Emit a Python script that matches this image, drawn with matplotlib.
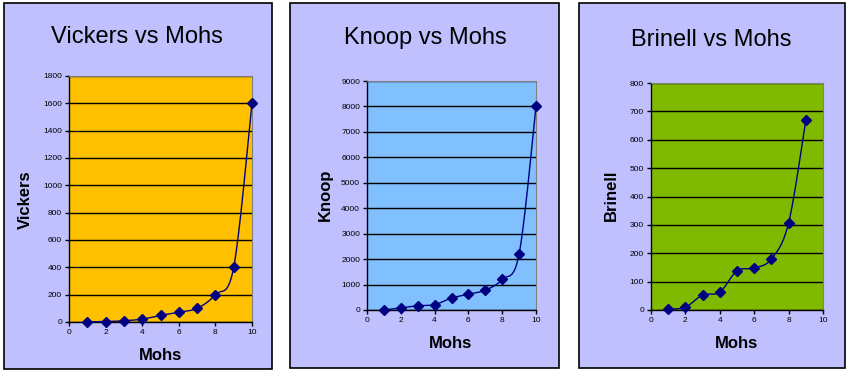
import numpy as np
import matplotlib

matplotlib.use("Agg")
import matplotlib.pyplot as plt
from matplotlib.patches import Rectangle

plt.rcParams["font.family"] = ["Liberation Sans", "DejaVu Sans"]

W, H = 849, 380

# data
mohs = [1, 2, 3, 4, 5, 6, 7, 8, 9, 10]
vickers = [1, 3, 9, 21, 48, 72, 100, 200, 400, 1600]
knoop = [1, 80, 170, 210, 470, 620, 780, 1200, 2200, 8000]
mohs_brinell = [1, 2, 3, 4, 5, 6, 7, 8, 9]
brinell = [3, 10, 53, 63, 138, 148, 180, 307, 668]

# name, x, y, ymax, ystep, plot colour, panel box, plot box, title xy, ylabel xy, xlabel xy
panels = [
    ("Vickers", mohs, vickers, 1800, 200, "#FFC000",
     (4, 3, 272, 369), (69, 76, 252, 322), (137, 37), (25, 200), (160, 356)),
    ("Knoop", mohs, knoop, 9000, 1000, "#80C0FF",
     (290, 3, 559, 368), (367, 81, 536, 310), (425, 38), (325, 195), (451, 344)),
    ("Brinell", mohs_brinell, brinell, 800, 100, "#7FBA00",
     (579, 3, 845, 368), (651, 83, 823, 310), (711, 40), (611, 195), (736, 344)),
]


def fx(px):
    return px / W


def fy(py):
    return 1 - py / H


def smooth(x, y, sx, sy, n=30):
    """Catmull-Rom through the points, done in scaled units like Excel's smoothed line."""
    p = np.column_stack([np.asarray(x, float) / sx, np.asarray(y, float) / sy])
    p = np.vstack([p[0], p, p[-1]])
    out = []
    t = np.linspace(0, 1, n)[:, None]
    for i in range(1, len(p) - 2):
        p0, p1, p2, p3 = p[i - 1], p[i], p[i + 1], p[i + 2]
        c1 = p1 + (p2 - p0) / 6
        c2 = p2 - (p3 - p1) / 6
        seg = ((1 - t) ** 3) * p1 + 3 * ((1 - t) ** 2) * t * c1 \
            + 3 * (1 - t) * t ** 2 * c2 + t ** 3 * p2
        out.append(seg)
    s = np.vstack(out)
    return s[:, 0] * sx, s[:, 1] * sy


fig = plt.figure(figsize=(W / 100, H / 100), dpi=100)
fig.patch.set_facecolor("white")

for name, xs, ys, ymax, ystep, colour, box, pbox, tpos, ypos, xpos in panels:
    x0, y0, x1, y1 = box
    fig.patches.append(Rectangle((fx(x0), fy(y1)), fx(x1 - x0), (y1 - y0) / H,
                                 transform=fig.transFigure, facecolor="#C0C0FF",
                                 edgecolor="black", linewidth=1.2, zorder=-5))
    ax0, ay0, ax1, ay1 = pbox
    ax = fig.add_axes([fx(ax0), fy(ay1), fx(ax1 - ax0), (ay1 - ay0) / H], zorder=1)
    ax.set_facecolor(colour)
    ax.set_xlim(0, 10)
    ax.set_ylim(0, ymax)
    ax.set_xticks(range(0, 11, 2))
    ax.set_yticks(range(0, ymax + 1, ystep))
    ax.yaxis.grid(True, color="black", linewidth=1)
    ax.set_axisbelow(True)
    ax.tick_params(labelsize=6, length=3, width=1, direction="out", pad=2)
    for side in ("top", "right"):
        ax.spines[side].set_color("#808080")
        ax.spines[side].set_linewidth(0.8)
    for side in ("left", "bottom"):
        ax.spines[side].set_color("black")
        ax.spines[side].set_linewidth(1)

    sx, sy = smooth(xs, ys, 10, ymax)
    ax.plot(sx, sy, color="#000080", linewidth=1, clip_on=False, zorder=3)
    ax.plot(xs, ys, linestyle="none", marker="D", markersize=5,
            color="#000080", clip_on=False, zorder=4)

    fig.text(fx(tpos[0]), fy(tpos[1]), f"{name} vs Mohs", fontsize=17,
             ha="center", va="center", zorder=2)
    fig.text(fx(ypos[0]), fy(ypos[1]), name, fontsize=12, fontweight="bold",
             rotation=90, ha="center", va="center", zorder=2)
    fig.text(fx(xpos[0]), fy(xpos[1]), "Mohs", fontsize=12, fontweight="bold",
             ha="center", va="center", zorder=2)

fig.savefig("out.png", dpi=100)
